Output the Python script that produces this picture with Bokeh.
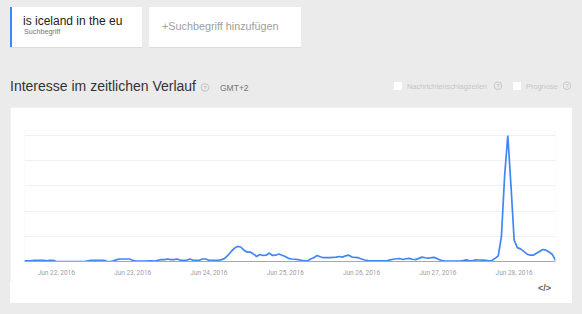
import pandas as pd
from bokeh.plotting import figure
from bokeh.models import (Range1d, FixedTicker, DatetimeTickFormatter,
                          Div, ColumnDataSource)
from bokeh.layouts import column
from bokeh.embed import file_html
from bokeh.resources import INLINE

# ---------------- data ----------------
start_time = "2016-06-21 14:00"
interest = [
    0.5, 0.5, 0.5, 1, 1, 1, 1, 0.5, 1, 1,
    0, 0, 0, 0, 0, 0, 0, 0, 0, 0,
    0.5, 1, 1, 1, 1, 1, 0, 0, 0.5, 1.5,
    2, 2, 2, 2, 1, 0.3, 0.3, 0.3, 0.3, 0.5,
    0.5, 0.3, 1, 1.5, 1.5, 2, 1.5, 1.5, 2, 1,
    1, 1, 2, 1, 1, 1, 2, 2, 1, 1,
    1, 1, 1.5, 2.5, 5, 8, 10.5, 12, 11.5, 9,
    7.5, 7.5, 6, 4, 5.6, 4.8, 5, 6.7, 4.8, 5,
    5.9, 5, 4, 2.5, 2, 1.8, 1.5, 1, 0.5, 0.5,
    2, 3, 4.8, 3.8, 3, 3, 3, 3.2, 3.5, 4,
    3.5, 4.5, 5, 3.5, 3.2, 3, 2, 1.2, 0.8, 0.5,
    0.5, 0.5, 0.5, 0.5, 0.5, 1.3, 1.8, 2.2, 2.4, 1.6,
    2.2, 2.5, 1.8, 1.5, 2.5, 3.5, 3, 2.7, 3, 3.2,
    1.9, 1, 0.5, 0.4, 0.3, 0.3, 0.3, 0.3, 0.8, 1.3,
    0.6, 0.8, 1.3, 1.2, 1.1, 1, 0.6, 0.8, 2.5, 4.5,
    20, 68, 100, 60, 17, 11, 10, 8, 6, 5,
    5, 6.5, 8, 9.5, 9, 7.5, 5.6, 1,
]
tick_dates = ["2016-06-22", "2016-06-23", "2016-06-24", "2016-06-25",
              "2016-06-26", "2016-06-27", "2016-06-28"]
grid_values = [20, 40, 60, 80, 100]
search_term = "is iceland in the eu"
search_kind = "Suchbegriff"
add_term = "+Suchbegriff hinzufügen"
heading = "Interesse im zeitlichen Verlauf"
timezone = "GMT+2"
option_labels = ["Nachrichtenschlagzeilen", "Prognose"]
embed_icon = "&lt;/&gt;"

times = pd.date_range(start_time, periods=len(interest), freq="h")
tick_ms = [int(t) // 10**6 for t in pd.to_datetime(tick_dates).asi8]

FONT = "Roboto"
BG = "#ebebeb"

# ---------------- header (UI chrome) ----------------
svg = f"""
<svg xmlns="http://www.w3.org/2000/svg" width="582" height="107" style="display:block">
  <rect x="0" y="0" width="582" height="107" fill="{BG}"/>
  <rect x="10" y="8" width="132" height="40" fill="#dcdcdc"/>
  <rect x="10" y="7" width="132" height="40" fill="#ffffff"/>
  <rect x="10" y="7" width="2" height="40" fill="#4285f4"/>
  <text x="23" y="24.5" font-family="{FONT}" font-size="12" fill="#212121">{search_term}</text>
  <text x="24" y="34" font-family="{FONT}" font-size="7.2" fill="#757575">{search_kind}</text>
  <rect x="149" y="8" width="152" height="40" fill="#dcdcdc"/>
  <rect x="149" y="7" width="152" height="40" fill="#ffffff"/>
  <text x="162" y="29.5" font-family="{FONT}" font-size="10.8" fill="#9e9e9e">{add_term}</text>
  <text x="10" y="91" font-family="{FONT}" font-size="14" fill="#333333">{heading}</text>
  <circle cx="205" cy="87.5" r="3.8" fill="none" stroke="#c4c4c4" stroke-width="1"/>
  <text x="205" y="89.6" text-anchor="middle" font-family="{FONT}" font-size="5.5" fill="#b0b0b0">?</text>
  <text x="220" y="90.5" font-family="{FONT}" font-size="8.5" fill="#757575">{timezone}</text>
  <rect x="394" y="82" width="8" height="8" fill="#ffffff"/>
  <text x="407" y="88.5" font-family="{FONT}" font-size="7.4" fill="#c6c6c6">{option_labels[0]}</text>
  <circle cx="498" cy="85.7" r="3.8" fill="none" stroke="#c8c8c8" stroke-width="1"/>
  <text x="498" y="87.8" text-anchor="middle" font-family="{FONT}" font-size="5.5" fill="#c0c0c0">?</text>
  <rect x="513" y="82" width="8" height="8" fill="#ffffff"/>
  <text x="526" y="88.5" font-family="{FONT}" font-size="7.4" fill="#c6c6c6">{option_labels[1]}</text>
  <circle cx="567" cy="85.7" r="3.8" fill="none" stroke="#c8c8c8" stroke-width="1"/>
  <text x="567" y="87.8" text-anchor="middle" font-family="{FONT}" font-size="5.5" fill="#c0c0c0">?</text>
</svg>
"""
header = Div(text=svg, width=582, height=107, margin=0,
             styles={"background-color": BG})

# ---------------- chart card ----------------
src = ColumnDataSource(data=dict(time=times, interest=interest))

p = figure(width=562, height=175, x_axis_type="datetime",
           x_range=Range1d(times[0], times[-1]), y_range=Range1d(0, 104),
           output_backend="svg", toolbar_location=None,
           min_border_left=14, min_border_right=17,
           min_border_top=23, min_border_bottom=21,
           background_fill_color="white", border_fill_color="white",
           outline_line_color=None)
p.margin = (0, 10, 0, 10)

p.line(x="time", y="interest", source=src, line_color="#4285f4", line_width=1.7)

p.yaxis.visible = False
p.xgrid.visible = False
p.ygrid.ticker = FixedTicker(ticks=grid_values)
p.ygrid.grid_line_color = "#f0f0f0"
p.ygrid.grid_line_width = 1

fmt = "%b %d, %Y"
p.xaxis.ticker = FixedTicker(ticks=tick_ms)
p.xaxis.formatter = DatetimeTickFormatter(
    milliseconds=fmt, seconds=fmt, minsec=fmt, minutes=fmt, hourmin=fmt,
    hours=fmt, days=fmt, months=fmt, years=fmt)
p.xaxis.major_tick_line_color = None
p.xaxis.minor_tick_line_color = None
p.xaxis.axis_line_color = "#a8a8a8"
p.xaxis.axis_line_width = 1
p.xaxis.major_label_text_font = FONT
p.xaxis.major_label_text_font_size = "6.5px"
p.xaxis.major_label_text_color = "#9e9e9e"
p.xaxis.major_label_standoff = 1

# ---------------- card footer with embed icon ----------------
footer_svg = f"""
<svg xmlns="http://www.w3.org/2000/svg" width="562" height="21" style="display:block">
  <rect x="0" y="0" width="562" height="21" fill="#ffffff"/>
  <text x="534.5" y="8.5" text-anchor="middle" font-family="{FONT}" font-size="9"
        font-weight="bold" fill="#616161">{embed_icon}</text>
</svg>
"""
footer = Div(text=footer_svg, width=562, height=21, margin=(0, 10, 11, 10),
             styles={"background-color": "#ffffff"})

layout = column(header, p, footer, styles={"background-color": BG})

open("out.html", "w").write(file_html(layout, INLINE))
